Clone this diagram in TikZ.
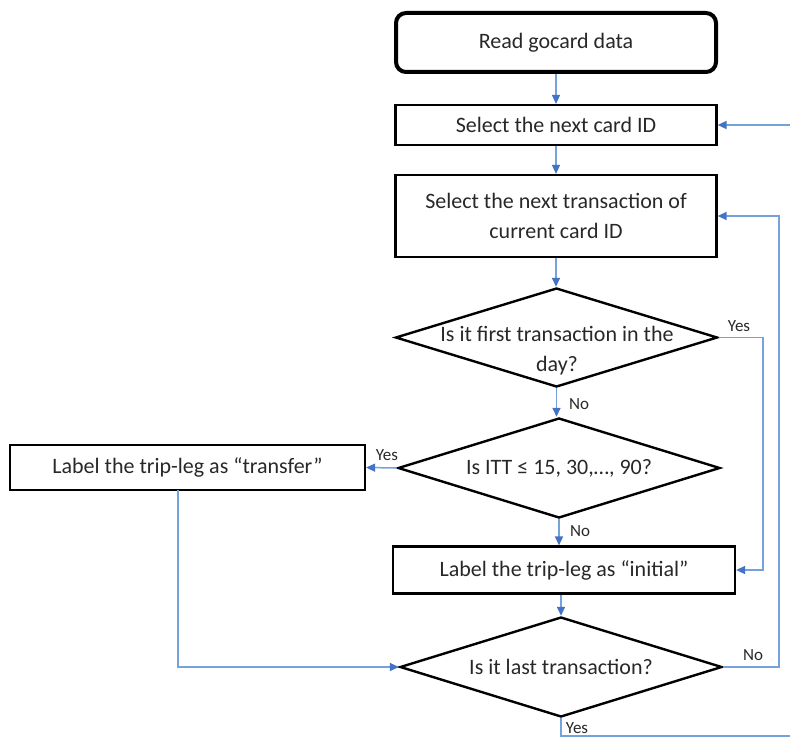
\documentclass[tikz,border=0pt]{standalone}
\usepackage{fontspec}
\setmainfont{Carlito}
\usetikzlibrary{shapes.geometric,arrows.meta}
\definecolor{flowblue}{RGB}{118,162,220}
\definecolor{tipblue}{RGB}{68,114,196}
\definecolor{inkgray}{RGB}{40,40,40}
\tikzset{
  every node/.style={font=\fontsize{11}{15}\selectfont, text=inkgray},
  startbox/.style={draw=black, line width=2pt, rounded corners=5pt, minimum width=160pt, minimum height=29.5pt, inner sep=0pt},
  procbox/.style={draw=black, line width=1.1pt, inner sep=0pt, align=center},
  decision/.style={draw=black, line width=1.2pt, diamond, inner sep=0pt, minimum width=161pt, minimum height=50pt},
  decisiontext/.style={align=center, inner sep=0pt},
  flow/.style={draw=flowblue, line width=0.75pt, -{Triangle[length=4.5pt,width=4pt,fill=tipblue,color=tipblue]}},
  conn/.style={draw=flowblue, line width=0.75pt},
  answer/.style={font=\fontsize{8.5}{10}\selectfont, inner sep=0pt, text=inkgray}
}
\begin{document}
\begin{tikzpicture}[x=0.5pt,y=-0.5pt]
  \useasboundingbox (0,0) rectangle (790,738);

  % process steps
  \node[startbox] (read) at (556,42.5) {Read gocard data};
  \node[procbox, minimum width=160.5pt, minimum height=20pt] (card) at (556,125) {Select the next card ID};
  \node[procbox, minimum width=160.5pt, minimum height=41pt] (trans) at (556,216)
       {Select the next transaction of\\current card ID};

  % first decision
  \node[decision, minimum height=49.5pt] (d1) at (556.5,337.5) {};
  \node[decisiontext] (d1t) at (557,351) {Is it first transaction in the\\day?};

  % second decision
  \node[decision] (d2) at (559,468) {};
  \node[decisiontext] (d2t) at (d2.center) {Is ITT ≤ 15, 30,…, 90?};

  \node[procbox, minimum width=177.5pt, minimum height=22.5pt] (transfer) at (187.5,467.5)
       {Label the trip-leg as “transfer”};
  \node[procbox, minimum width=171pt, minimum height=23.5pt] (init) at (564,570)
       {Label the trip-leg as “initial”};

  % last decision
  \node[decision] (d3) at (561,667) {};
  \node[decisiontext] (d3t) at (d3.center) {Is it last transaction?};

  % helper points for the loops and open ends
  \coordinate (yesline) at (763,337.5);
  \coordinate (noline) at (779,667);
  \coordinate (edgeR) at (790,125);
  \coordinate (edgeB) at (790,736);
  \coordinate (transferdrop) at (178,490);

  % main flow
  \draw[flow] (read.south) -- (card.north);
  \draw[flow] (card.south) -- (trans.north);
  \draw[flow] (trans.south) -- (trans.south |- d1.north);
  \draw[flow] (d1.south) -- (d1.south |- d2.north);
  \draw[flow] (d2.south) -- (d2.south |- init.north);
  \draw[flow] (init.south -| d3.north) -- (d3.north);

  % branches
  \draw[flow] (d1.east) -- (yesline) |- (init.east);
  \draw[flow] (d2.west) -- (transfer.east);
  \draw[flow] (transferdrop) |- (d3.west);
  \draw[flow] (d3.east) -- (noline) |- (trans.east);
  \draw[flow] (edgeR) -- (card.east);
  \draw[conn] (d3.south) |- (edgeB);

  % branch labels
  \node[answer] (yes1) at (739,326) {Yes};
  \node[answer] (no1) at (579,404) {No};
  \node[answer] (yes2) at (387,455) {Yes};
  \node[answer] (no2) at (580,531) {No};
  \node[answer] (no3) at (753,655) {No};
  \node[answer] (yes3) at (577,728) {Yes};
\end{tikzpicture}
\end{document}
